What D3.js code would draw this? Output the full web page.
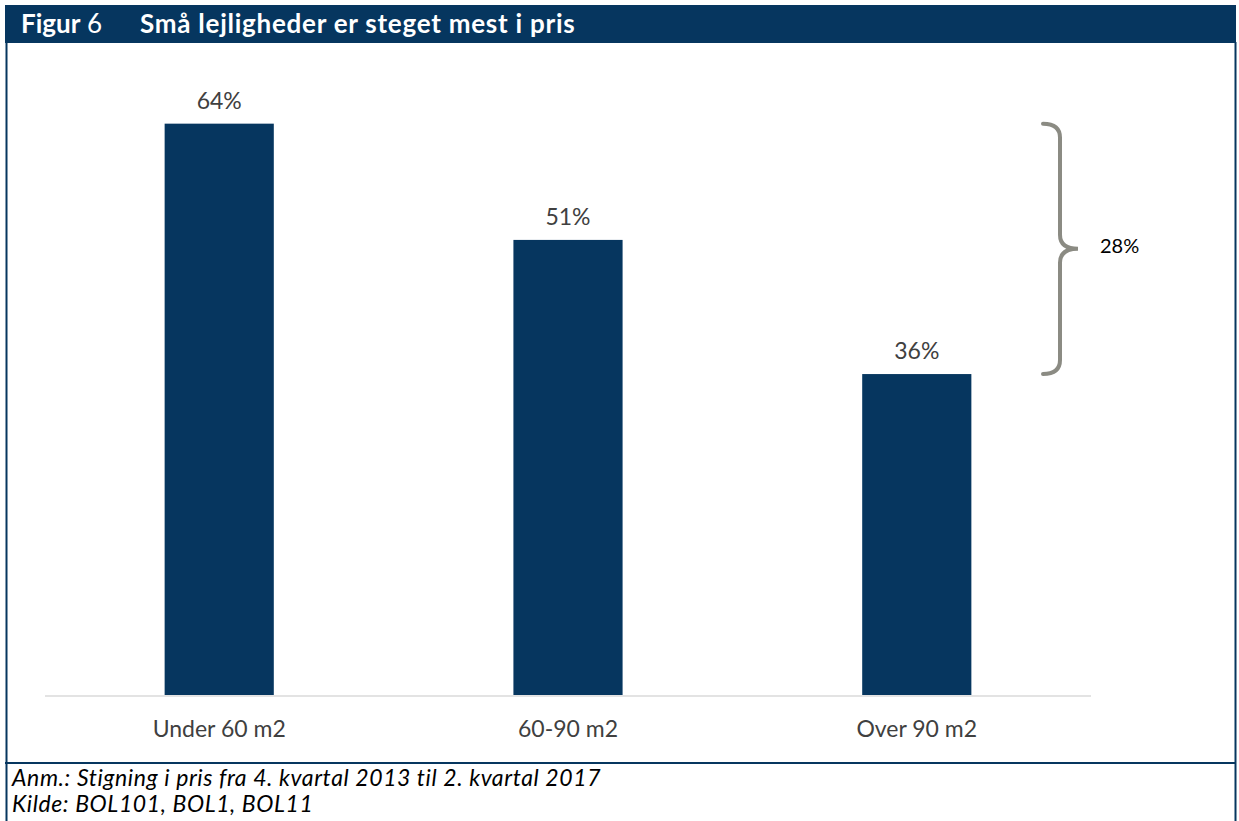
<!DOCTYPE html>
<html>
<head>
<meta charset="utf-8">
<script src="https://cdn.jsdelivr.net/npm/d3@7"></script>
<style>
  html, body { margin: 0; padding: 0; background: #fff; }
  svg { display: block; }
</style>
</head>
<body>
<div id="chart"></div>
<script>
// Price increase by apartment size
const categories = ["Under 60 m2", "60-90 m2", "Over 90 m2"];
const values = [64, 51, 36];
const titleLabel = "Figur";
const titleNumber = "6";
const titleText = "Små lejligheder er steget mest i pris";
const notes = [
  "Anm.: Stigning i pris fra 4. kvartal 2013 til 2. kvartal 2017",
  "Kilde: BOL101, BOL1, BOL11"
];

const W = 1239, H = 821;
const navy = "#06365f";
const svg = d3.select("#chart").append("svg")
  .attr("width", W).attr("height", H);

// Frame and header band
svg.append("rect").attr("x", 5).attr("y", 5).attr("width", 1231).attr("height", 38).attr("fill", navy);
svg.append("line").attr("x1", 6.5).attr("x2", 6.5).attr("y1", 42).attr("y2", H).attr("stroke", navy).attr("stroke-width", 2);
svg.append("line").attr("x1", 1235.5).attr("x2", 1235.5).attr("y1", 42).attr("y2", H).attr("stroke", navy).attr("stroke-width", 2);
svg.append("line").attr("x1", 5).attr("x2", 1236).attr("y1", 763).attr("y2", 763).attr("stroke", navy).attr("stroke-width", 2);

const title = svg.append("text").attr("x", 21).attr("y", 33)
  .attr("font-family", "Lato").attr("font-size", 26).attr("fill", "#fff");
title.append("tspan").attr("font-weight", "bold").text(titleLabel);
title.append("tspan").text(" " + titleNumber);
svg.append("text").attr("x", 140).attr("y", 33)
  .attr("font-family", "Lato").attr("font-weight", "bold").attr("font-size", 26)
  .attr("letter-spacing", 0.75).attr("fill", "#fff")
  .text(titleText);

// Scales
const x = d3.scaleBand().domain(categories).range([45, 1091]).paddingInner(0.687).paddingOuter(0.343);
const y = d3.scaleLinear().domain([0, 70]).range([696, 70]);

// Baseline axis
svg.append("line").attr("x1", 45).attr("x2", 1091).attr("y1", y(0)).attr("y2", y(0))
  .attr("stroke", "#e3e3e3").attr("stroke-width", 2);

const data = categories.map((c, i) => ({ c, v: values[i] }));

svg.selectAll("rect.bar").data(data).join("rect").attr("class", "bar")
  .attr("x", d => x(d.c)).attr("width", x.bandwidth())
  .attr("y", d => y(d.v)).attr("height", d => y(0) - y(d.v) - 1)
  .attr("fill", navy);

svg.selectAll("text.val").data(data).join("text").attr("class", "val")
  .attr("x", d => x(d.c) + x.bandwidth() / 2).attr("y", d => y(d.v) - 15)
  .attr("text-anchor", "middle").attr("font-family", "Lato").attr("font-size", 23)
  .attr("fill", "#404040").text(d => d.v + "%");

svg.selectAll("text.cat").data(data).join("text").attr("class", "cat")
  .attr("x", d => x(d.c) + x.bandwidth() / 2).attr("y", 737)
  .attr("text-anchor", "middle").attr("font-family", "Lato").attr("font-size", 23)
  .attr("fill", "#404040").text(d => d.c);

// Brace spanning the gap between smallest and largest value
const hi = d3.max(values), lo = d3.min(values);
const yt = y(hi), yb = y(lo), ym = (yt + yb) / 2;
const bx = 1043, vx = 1060, tip = 1078, r = 14;
const brace = d3.path();
brace.moveTo(bx, yt);
brace.quadraticCurveTo(vx, yt, vx, yt + r);
brace.lineTo(vx, ym - r);
brace.quadraticCurveTo(vx, ym, tip, ym);
brace.quadraticCurveTo(vx, ym, vx, ym + r);
brace.lineTo(vx, yb - r);
brace.quadraticCurveTo(vx, yb, bx, yb);
svg.append("path").attr("d", brace.toString()).attr("fill", "none")
  .attr("stroke", "#8b8b83").attr("stroke-width", 4).attr("stroke-linecap", "round");
svg.append("text").attr("x", 1100).attr("y", ym + 4)
  .attr("font-family", "Lato").attr("font-size", 20).attr("fill", "#000")
  .text((hi - lo) + "%");

// Footnotes
svg.selectAll("text.note").data(notes).join("text").attr("class", "note")
  .attr("x", 12).attr("y", (d, i) => 786 + i * 26)
  .attr("font-family", "Lato").attr("font-style", "italic").attr("font-size", 23)
  .attr("letter-spacing", 0.6).attr("fill", "#000").text(d => d);
</script>
</body>
</html>
